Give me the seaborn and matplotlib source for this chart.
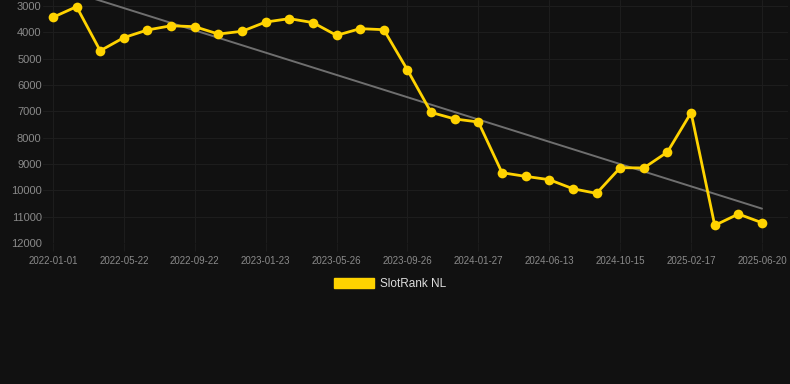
import numpy as np
import pandas as pd
import matplotlib
matplotlib.use("Agg")
import matplotlib.pyplot as plt
from matplotlib.patches import Patch
import seaborn as sns

# dates of each snapshot (categorical axis, every 3rd one labelled)
dates = [
    "2022-01-01", "2022-02-17", "2022-04-05", "2022-05-22", "2022-07-02",
    "2022-08-12", "2022-09-22", "2022-11-02", "2022-12-13", "2023-01-23",
    "2023-03-05", "2023-04-15", "2023-05-26", "2023-07-06", "2023-08-16",
    "2023-09-26", "2023-11-06", "2023-12-17", "2024-01-27", "2024-03-11",
    "2024-04-28", "2024-06-13", "2024-07-24", "2024-09-03", "2024-10-15",
    "2024-11-26", "2025-01-06", "2025-02-17", "2025-03-30", "2025-05-10",
    "2025-06-20",
]

# rank values
rank = [
    3430, 3025, 4700, 4200, 3910, 3750, 3785, 4065, 3960, 3610,
    3480, 3630, 4115, 3860, 3900, 5430, 7040, 7290, 7405, 9330,
    9470, 9595, 9940, 10115, 9140, 9150, 8545, 7050, 11330, 10900,
    11230,
]

y_ticks = [3000, 4000, 5000, 6000, 7000, 8000, 9000, 10000, 11000, 12000]

BG = "#111111"
GOLD = "#FFD300"
GRID = "#1d1d1d"

df = pd.DataFrame({"idx": np.arange(len(dates)), "date": dates, "rank": rank})

sns.set_style("dark", rc={
    "axes.facecolor": BG,
    "figure.facecolor": BG,
    "grid.color": GRID,
    "axes.edgecolor": BG,
})
plt.rcParams["font.family"] = ["Liberation Sans", "DejaVu Sans"]

fig = plt.figure(figsize=(7.9, 3.84), dpi=100)
ax = fig.add_axes([43 / 790, 1 - 243 / 384, 745 / 790, 243 / 384])

# trend line (linear fit)
sns.regplot(data=df, x="idx", y="rank", scatter=False, ci=None, ax=ax,
            color="#6f6f6f", line_kws={"linewidth": 1.4})

# main series
sns.lineplot(data=df, x="idx", y="rank", ax=ax, color=GOLD, linewidth=2,
             marker="o", markersize=7, markeredgewidth=0, markeredgecolor=GOLD)

ax.set_xlim(-0.42, 31.1)
ax.set_ylim(12000, 2772)
ax.set_yticks(y_ticks)
ax.set_yticklabels([str(v) for v in y_ticks])
tick_pos = df["idx"][::3]
ax.set_xticks(tick_pos)
ax.set_xticklabels(df["date"][::3])

ax.grid(True, color=GRID, linewidth=0.8)
ax.set_axisbelow(True)
ax.tick_params(axis="x", colors="#1b1b1b", labelcolor="#8a8a8a",
               labelsize=7, length=6, pad=3, bottom=True)
ax.tick_params(axis="y", labelcolor="#8a8a8a", labelsize=8, length=0, pad=1)
ax.set_xlabel("")
ax.set_ylabel("")
for s in ax.spines.values():
    s.set_visible(False)

# legend
handle = Patch(facecolor=GOLD, edgecolor=GOLD)
fig.legend([handle], ["SlotRank NL"], loc="center",
           bbox_to_anchor=(0.494, 0.26), frameon=False, fontsize=8.5,
           labelcolor="#dddddd", handlelength=3.4, handleheight=0.95,
           handletextpad=0.5)

fig.savefig("out.png", dpi=100, facecolor=BG)
